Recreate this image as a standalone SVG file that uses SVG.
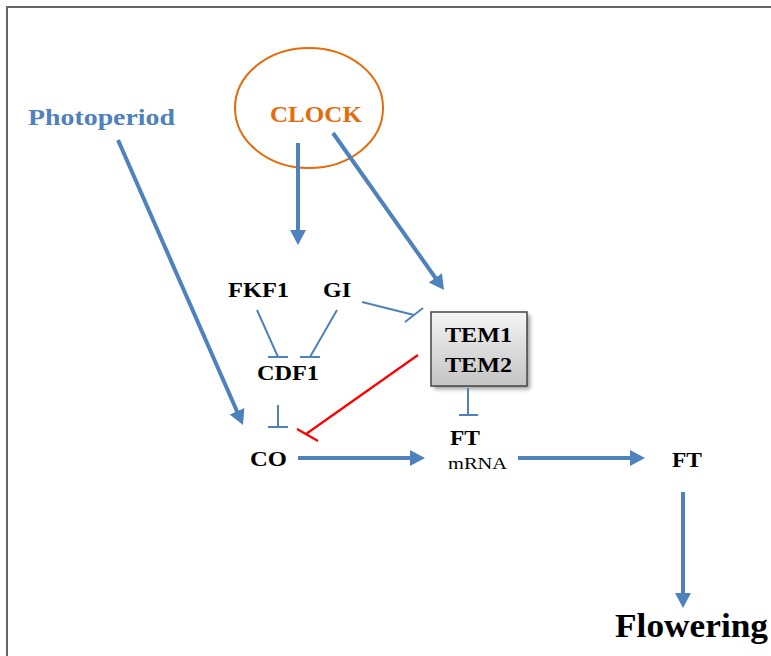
<svg xmlns="http://www.w3.org/2000/svg" width="771" height="656" viewBox="0 0 771 656">
  <style>
    .lbl { font-family: "Liberation Serif", "Times New Roman", serif; font-weight: bold; fill: #000; }
    .act { stroke: #4F81BD; stroke-width: 4; fill: none; marker-end: url(#head); }
    .inh { stroke: #4F81BD; stroke-width: 2; fill: none; }
    .red { stroke: #FF0000; stroke-width: 2.2; fill: none; }
  </style>
  <defs>
    <marker id="head" markerUnits="userSpaceOnUse" markerWidth="16" markerHeight="18" refX="7" refY="8" orient="auto">
      <path d="M0,0 L15,8 L0,16 z" fill="#4F81BD"/>
    </marker>
    <linearGradient id="boxfill" x1="0" y1="0" x2="0" y2="1">
      <stop offset="0" stop-color="#F4F4F4"/>
      <stop offset="1" stop-color="#C4C4C4"/>
    </linearGradient>
    <filter id="shadow" x="-20%" y="-20%" width="150%" height="150%">
      <feGaussianBlur stdDeviation="2"/>
    </filter>
  </defs>

  <rect width="771" height="656" fill="#fff"/>
  <!-- frame -->
  <rect x="7" y="7" width="780" height="670" fill="none" stroke="#666" stroke-width="2"/>

  <g id="photoperiod">
    <text x="28" y="125" font-size="24" textLength="147" lengthAdjust="spacingAndGlyphs" class="lbl" style="fill:#4F81BD">Photoperiod</text>
  </g>

  <g id="clock">
    <ellipse cx="309" cy="108" rx="74" ry="60" fill="none" stroke="#E46C0A" stroke-width="2"/>
    <text x="270" y="122" font-size="24" textLength="92" lengthAdjust="spacingAndGlyphs" class="lbl" style="fill:#E46C0A">CLOCK</text>
  </g>

  <g id="fkf1">
    <text x="228" y="297" font-size="22" textLength="61" lengthAdjust="spacingAndGlyphs" class="lbl">FKF1</text>
  </g>
  <g id="gi">
    <text x="323" y="297" font-size="22" textLength="28" lengthAdjust="spacingAndGlyphs" class="lbl">GI</text>
  </g>
  <g id="cdf1">
    <text x="257" y="380" font-size="22" textLength="62" lengthAdjust="spacingAndGlyphs" class="lbl">CDF1</text>
  </g>

  <g id="tem">
    <rect x="434" y="315" width="96" height="74" fill="#555" opacity="0.6" filter="url(#shadow)"/>
    <rect x="431" y="312" width="96" height="74" fill="url(#boxfill)" stroke="#444" stroke-width="1.5"/>
    <text x="445" y="342" font-size="22" textLength="67" lengthAdjust="spacingAndGlyphs" class="lbl">TEM1</text>
    <text x="445" y="372" font-size="22" textLength="67" lengthAdjust="spacingAndGlyphs" class="lbl">TEM2</text>
  </g>

  <g id="co">
    <text x="250" y="466" font-size="22" textLength="37" lengthAdjust="spacingAndGlyphs" class="lbl">CO</text>
  </g>

  <g id="ft-mrna">
    <text x="450" y="445" font-size="22" textLength="30" lengthAdjust="spacingAndGlyphs" class="lbl">FT</text>
    <text x="448" y="469" font-size="16" textLength="59" lengthAdjust="spacingAndGlyphs" font-family="Liberation Serif, Times New Roman, serif" fill="#000">mRNA</text>
  </g>

  <g id="ft-protein">
    <text x="672" y="467" font-size="22" textLength="30" lengthAdjust="spacingAndGlyphs" class="lbl">FT</text>
  </g>

  <g id="flowering">
    <text x="615" y="637" font-size="33" textLength="153" lengthAdjust="spacingAndGlyphs" class="lbl">Flowering</text>
  </g>

  <g id="connectors">
    <!-- activation arrows -->
    <line class="act" x1="118" y1="140" x2="239.8" y2="417.7"/>
    <line class="act" x1="298" y1="143" x2="298" y2="237"/>
    <line class="act" x1="333" y1="133" x2="439.4" y2="283.5"/>
    <line class="act" x1="298" y1="458" x2="417" y2="458"/>
    <line class="act" x1="518" y1="458" x2="637" y2="458"/>
    <line class="act" x1="683" y1="492" x2="683" y2="600"/>

    <!-- FKF1 -| CDF1 -->
    <path class="inh" d="M257,310 L278,357 M268,357 L288,357"/>
    <!-- GI -| CDF1 -->
    <path class="inh" d="M337,310 L310,357 M300,357 L320,357"/>
    <!-- GI -| TEM -->
    <path class="inh" d="M362,302 L414,315 M405,322 L423,308"/>
    <!-- CDF1 -| CO -->
    <path class="inh" d="M278,405 L278,427 M268,427 L288,427"/>
    <!-- TEM -| FT -->
    <path class="inh" d="M468,388 L468,415 M459,415 L478,415"/>
    <!-- TEM -| CO -->
    <path class="red" d="M418,355 L306,434 M297,429 L318,441"/>
  </g>
</svg>
